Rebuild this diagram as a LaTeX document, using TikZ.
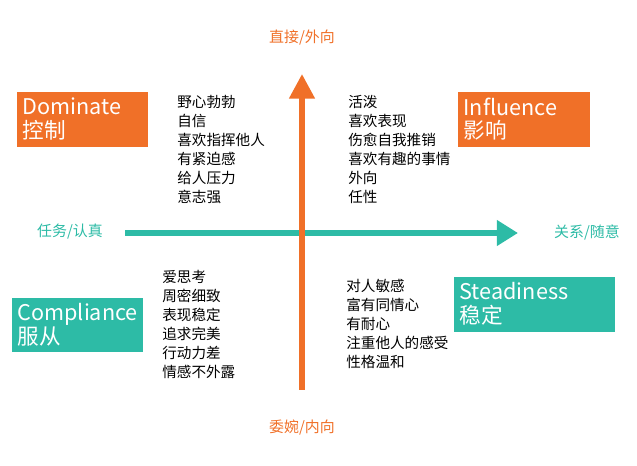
\documentclass[tikz,border=0pt]{standalone}
\usepackage{fontspec}
\setmainfont{Noto Sans CJK SC}
\usetikzlibrary{arrows.meta}
\definecolor{discorange}{HTML}{F07028}
\definecolor{discteal}{HTML}{2DBBA6}

\begin{document}
\begin{tikzpicture}[x=0.02cm, y=-0.02cm,
    box/.style={anchor=north west, text=white, align=left, font=\fontsize{12.3}{13.5}\selectfont, inner xsep=3pt, inner ysep=3pt},
    trait/.style={anchor=north west, align=left, inner sep=0, font=\fontsize{8.3}{10.8}\selectfont},
    axislabel/.style={font=\fontsize{8.5}{10}\selectfont}
]
\useasboundingbox (0,0) rectangle (637,466);

% axes
\coordinate (vbot) at (302,390);
\coordinate (vtop) at (302,74);
\coordinate (hleft) at (125,233);
\coordinate (hright) at (518,233);
\draw[discteal, line width=3.2pt, -{Triangle[length=12pt, width=14pt]}] (hleft) -- (hright);
\draw[discorange, line width=3.2pt, -{Triangle[length=14pt, width=14pt]}] (vbot) -- (vtop);

\node[axislabel, text=discorange] (up) at (302,38) {直接/外向};
\node[axislabel, text=discorange] (down) at (302,428) {委婉/内向};
\node[axislabel, text=discteal] (left) at (70,232) {任务/认真};
\node[axislabel, text=discteal] (right) at (587,232) {关系/随意};

% quadrant boxes
\fill[discorange] (17,92) rectangle (148,147);
\node[box] (dominate) at (17,92) {Dominate\\控制};
\fill[discorange] (458,92) rectangle (590,147);
\node[box] (influence) at (458,92) {Influence\\影响};
\fill[discteal] (12,298) rectangle (143,352);
\node[box] (compliance) at (12,298) {Compliance\\服从};
\fill[discteal] (454,277) rectangle (615,332);
\node[box] (steadiness) at (454,277) {Steadiness\\稳定};

% traits
\node[trait] (dtraits) at (177,95) {野心勃勃\\自信\\喜欢指挥他人\\有紧迫感\\给人压力\\意志强};
\node[trait] (itraits) at (348,95) {活泼\\喜欢表现\\伤愈自我推销\\喜欢有趣的事情\\外向\\任性};
\node[trait] (ctraits) at (162,270) {爱思考\\周密细致\\表现稳定\\追求完美\\行动力差\\情感不外露};
\node[trait] (straits) at (346,279) {对人敏感\\富有同情心\\有耐心\\注重他人的感受\\性格温和};

\end{tikzpicture}
\end{document}
